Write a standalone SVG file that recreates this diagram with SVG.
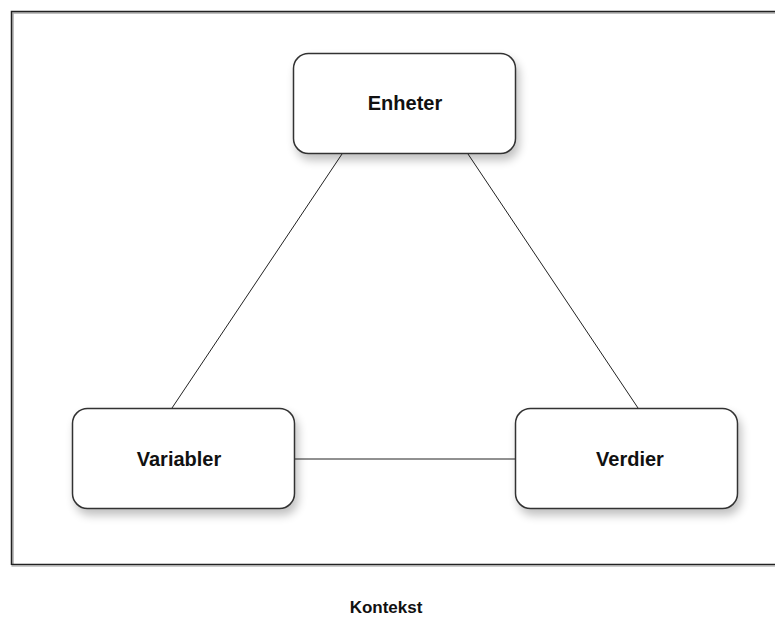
<svg xmlns="http://www.w3.org/2000/svg" width="775" height="619" viewBox="0 0 775 619">
<defs>
<filter id="sh" x="-20%" y="-20%" width="150%" height="170%">
<feGaussianBlur in="SourceAlpha" stdDeviation="5"/>
<feOffset dx="3" dy="6" result="b"/>
<feComponentTransfer><feFuncA type="linear" slope="0.25"/></feComponentTransfer>
<feMerge><feMergeNode/><feMergeNode in="SourceGraphic"/></feMerge>
</filter>
</defs>
<style>
.node{fill:#fff;stroke:#333;stroke-width:1.5;filter:url(#sh)}
.lbl{font-family:"Liberation Sans",Arial,sans-serif;font-weight:bold;font-size:20px;fill:#111;text-anchor:middle}
.edge{stroke:#222;stroke-width:1;fill:none}
</style>
<rect width="775" height="619" fill="#fff"/>
<g id="frame">
<path d="M13 565 V13 H780" fill="none" stroke="#aaa" stroke-width="1.5"/>
<path d="M11.5 565 V11.5 H780 M11.5 564.5 H780" fill="none" stroke="#222" stroke-width="1.5"/>
<path d="M11.5 566 H780" fill="none" stroke="#999" stroke-width="1"/>
</g>
<g id="connectors">
<line class="edge" x1="342" y1="154" x2="172" y2="408"/>
<line class="edge" x1="468" y1="154" x2="638" y2="408"/>
<line class="edge" x1="295" y1="459" x2="515" y2="459"/>
</g>
<g id="enheter">
<rect class="node" x="293.5" y="53.5" width="222" height="100" rx="15"/>
<text class="lbl" x="405" y="110">Enheter</text>
</g>
<g id="variabler">
<rect class="node" x="72.5" y="408.5" width="222" height="100" rx="15"/>
<text class="lbl" x="179" y="466">Variabler</text>
</g>
<g id="verdier">
<rect class="node" x="515.5" y="408.5" width="222" height="100" rx="15"/>
<text class="lbl" x="630" y="466">Verdier</text>
</g>
<g id="kontekst">
<text class="lbl" x="386" y="613" style="font-size:17px">Kontekst</text>
</g>
</svg>
